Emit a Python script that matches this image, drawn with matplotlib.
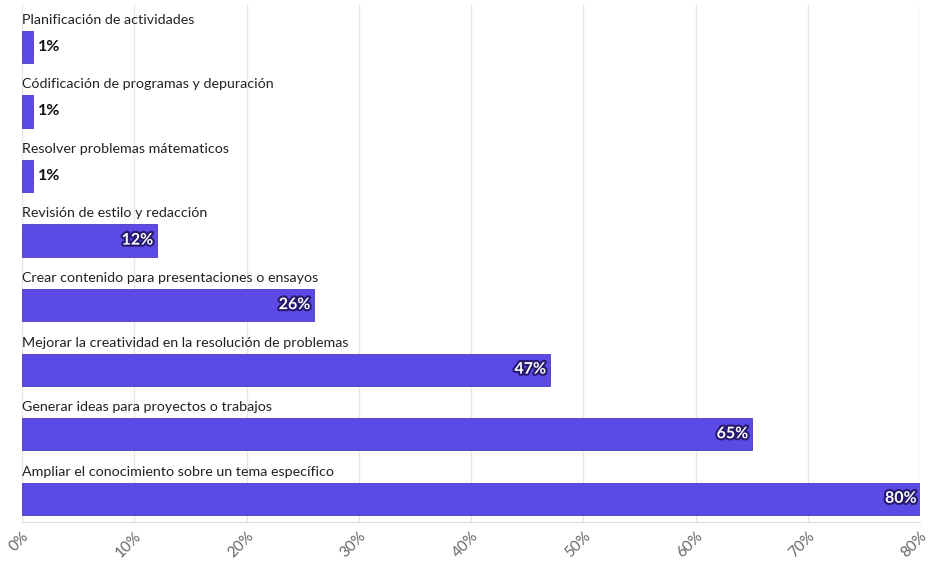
import numpy as np
import matplotlib.pyplot as plt
import matplotlib.patheffects as pe
from matplotlib.ticker import FuncFormatter

# Datos
categorias = [
    "Planificación de actividades",
    "Códificación de programas y depuración",
    "Resolver problemas mátematicos",
    "Revisión de estilo y redacción",
    "Crear contenido para presentaciones o ensayos",
    "Mejorar la creatividad en la resolución de problemas",
    "Generar ideas para proyectos o trabajos",
    "Ampliar el conocimiento sobre un tema específico",
]
valores = [1, 1, 1, 12, 26, 47, 65, 80]
ticks_x = [0, 10, 20, 30, 40, 50, 60, 70, 80]

plt.rcParams['font.family'] = ['Lato', 'DejaVu Sans']

color_barra = '#5c4ae4'

fig = plt.figure(figsize=(9.29, 5.66), dpi=100)
ax = fig.add_axes([22 / 929, 1 - 522 / 566, 898 / 929, 517 / 566])

y = np.arange(len(categorias))
ax.barh(y, valores, height=0.5, color=color_barra, edgecolor='#4a3bc0', linewidth=0.6, zorder=3)

for i, (cat, v) in enumerate(zip(categorias, valores)):
    ax.text(0, i - 0.42, cat, ha='left', va='center', fontsize=10.3, color='#222222')
    if v < 5:
        ax.text(v + 0.45, i, f'{v}%', ha='left', va='center', fontsize=11.5,
                fontweight='bold', color='#111111')
    else:
        t = ax.text(v - 0.3, i, f'{v}%', ha='right', va='center', fontsize=11.5,
                    fontweight='bold', color='white', zorder=4)
        t.set_path_effects([pe.withStroke(linewidth=3, foreground='#261a70')])

ax.set_xlim(0, 80)
ax.set_ylim(7.36, -0.65)
ax.set_xticks(ticks_x)
ax.xaxis.set_major_formatter(FuncFormatter(lambda x, p: f'{x:.0f}%'))
ax.tick_params(axis='x', length=0, pad=5, labelsize=11, labelcolor='#666666')
for lbl in ax.get_xticklabels():
    lbl.set_rotation(45)
    lbl.set_ha('right')
    lbl.set_rotation_mode('anchor')
ax.set_yticks([])

ax.grid(axis='x', color='#e6e6e6', linewidth=1, zorder=0)
for s in ['top', 'right', 'left']:
    ax.spines[s].set_visible(False)
ax.spines['bottom'].set_color('#dddddd')

fig.savefig('out.png', dpi=100)
